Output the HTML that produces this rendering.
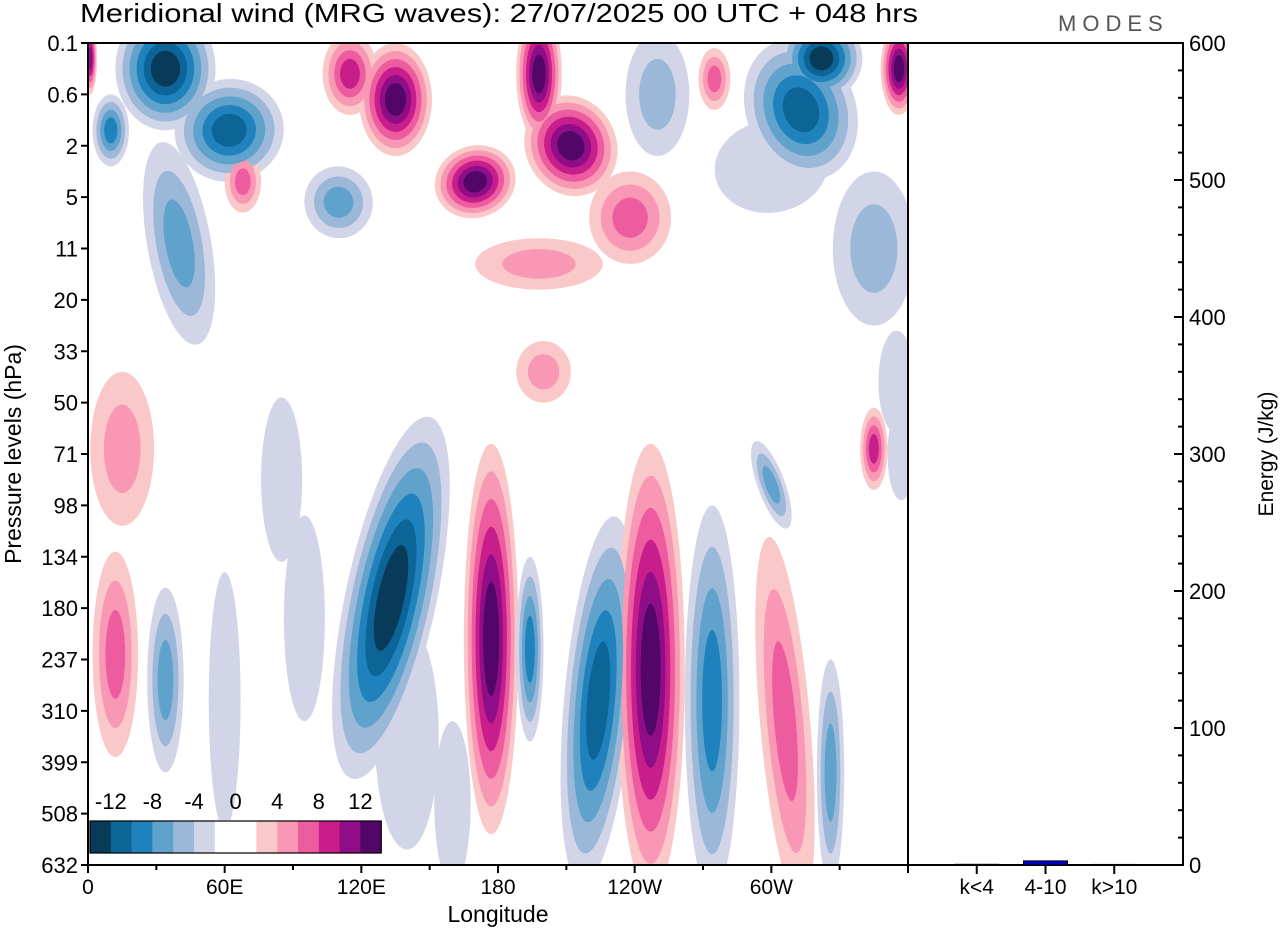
<!DOCTYPE html>
<html><head><meta charset="utf-8"><style>
body{margin:0;background:#fff;width:1280px;height:930px;overflow:hidden;font-family:"Liberation Sans",sans-serif}
svg text{font-family:"Liberation Sans",sans-serif;fill:#000}
</style></head><body>
<svg id="c" width="1280" height="930" viewBox="0 0 1280 930">
<defs><clipPath id="pc"><rect x="88" y="43" width="820" height="822"/></clipPath></defs>
<rect width="1280" height="930" fill="#fff"/>
<text x="80" y="22" font-size="26" textLength="838" lengthAdjust="spacingAndGlyphs">Meridional wind (MRG waves):  27/07/2025  00 UTC  + 048 hrs</text>
<text x="1058" y="31" font-size="22" style="letter-spacing:6px;fill:#555">MODES</text>
<g id="field" clip-path="url(#pc)"></g>
<g id="axes"></g>
</svg>
<script>
const levelsNeg=['#d2d5e8','#9cb8d8','#5fa2cc','#1f82bd','#0d6496','#083a5a'];
const levelsPos=['#fac8c8','#f898b4','#ee5ca0','#c81e8c','#900d88','#520668'];
const pressureLabels=['0.1','0.6','2','5','11','20','33','50','71','98','134','180','237','310','399','508','632'];
const lonLabels=['0','60E','120E','180','120W','60W'];
const cbarLabels=['-12','-8','-4','0','4','8','12'];
const bandCats=['k<4','4-10','k>10'];
const bandEnergy=[0.5,3,0.4];
const energyTicks=[0,100,200,300,400,500,600];
// blobs: lon (deg), pressure index, lon radius (deg), index radius, peak value, rotation
const blobLon=[133,177,194,224,247,274,306,326,12,34,95,60,345,300,15,85,
  34,62,10,40,110,135,115,68,212,198,170,238,313,322,356,198,345,250,275,200,355,357,160,140,300,1];
const blobP=[10.8,11.6,11.8,12.8,12.2,12.8,13.2,14.2,11.9,12.4,11.2,12.8,7.9,8.6,7.9,8.5,
  0.5,1.7,1.7,3.9,3.1,1.1,0.6,2.7,2.0,0.6,2.7,3.4,1.3,0.3,0.5,4.3,4.0,1.0,0.7,6.4,6.6,8.0,14.8,13.5,2.4,0.3];
const blobRL=[20,12,6,15,15,12,11,6,10,8,9,7,6,6,14,9,
  22,24,8,14,15,16,12,8,20,10,18,18,24,18,8,28,18,14,7,12,8,6,8,14,25,3];
const blobRP=[3.6,3.8,1.8,3.6,4.4,3.8,3.6,2.2,2.0,1.8,2.0,2.5,0.8,0.9,1.5,1.6,
  1.2,1.0,0.7,2.0,0.7,1.1,0.8,0.6,1.0,1.3,0.7,0.9,1.4,0.8,0.9,0.5,1.5,1.2,0.6,0.6,1.0,0.9,1.6,2.2,0.9,0.7];
const blobVal=[-14,14,-8,-10,14,-8,6,-6,6,-6,-3,-3,8,-6,4,-3,
  -14,-10,-8,-6,-6,12,8,6,14,12,12,6,-10,-14,12,4,-4,-4,6,4,-3,-3,-3,-3,-3,10];
const blobRot=[12,0,0,5,0,0,-5,0,0,0,0,0,0,-20,0,0,
  0,-10,0,-10,-10,0,0,0,-25,0,-20,0,-20,0,0,0,0,0,0,0,0,0,0,0,-10,0];

const X0=88,X1=908,Y0=43,Y1=865;
const xLon=l=>X0+(l/360)*(X1-X0);
const yP=i=>Y0+i*(Y1-Y0)/16;
const NS='http://www.w3.org/2000/svg';
function mk(tag,attrs,parent){const e=document.createElementNS(NS,tag);for(const k in attrs)e.setAttribute(k,attrs[k]);parent.appendChild(e);return e;}
const field=document.getElementById('field');
const axes=document.getElementById('axes');
for(let layer=1;layer<=6;layer++){
  for(let b=0;b<blobLon.length;b++){
    const v=blobVal[b];const n=Math.min(6,Math.max(1,Math.floor(Math.abs(v)/2)));
    if(layer>n)continue;
    const s=1-(layer-1)/n*0.85;
    const cx=xLon(blobLon[b]),cy=yP(blobP[b]);
    const rx=blobRL[b]/360*(X1-X0)*s, ry=blobRP[b]*(Y1-Y0)/16*s;
    const e=mk('ellipse',{cx:cx,cy:cy,rx:rx,ry:ry,fill:(v<0?levelsNeg:levelsPos)[layer-1],transform:`rotate(${blobRot[b]} ${cx} ${cy})`},field);
    
    
  }
}
const cb=mk('g',{},field);


const cbCols=[levelsNeg[5],levelsNeg[4],levelsNeg[3],levelsNeg[2],levelsNeg[1],levelsNeg[0],'#fff','#fff',...levelsPos];
const bw=20.8;
mk('rect',{x:89,y:820,width:bw*14+2,height:34,fill:'#fff'},cb);
cbCols.forEach((c,i)=>{const r=mk('rect',{x:90+i*bw,y:821,width:bw+0.5,height:32,fill:c},cb);});
mk('rect',{x:90,y:821,width:bw*14,height:32,fill:'none',stroke:'#000','stroke-width':1.2},cb);
cbarLabels.forEach((t,i)=>{const tx=mk('text',{x:90+bw*(1+2*i),y:809,'font-size':22,'text-anchor':'middle'},cb);tx.textContent=t;});
mk('rect',{x:X0,y:Y0,width:1183-X0,height:Y1-Y0,fill:'none',stroke:'#000','stroke-width':2},axes);
mk('line',{x1:X1,y1:Y0,x2:X1,y2:Y1,stroke:'#000','stroke-width':2},axes);
pressureLabels.forEach((t,i)=>{const y=yP(i);mk('line',{x1:X0-7,y1:y,x2:X0,y2:y,stroke:'#000','stroke-width':2},axes);
 const tx=mk('text',{x:X0-10,y:y+8,'font-size':22,'text-anchor':'end'},axes);tx.textContent=t;});
for(let l=0;l<=360;l+=30){const x=xLon(l);mk('line',{x1:x,y1:Y1,x2:x,y2:Y1+(l%60==0?8:5),stroke:'#000','stroke-width':2},axes);}
lonLabels.forEach((t,i)=>{const tx=mk('text',{x:xLon(i*60),y:Y1+29,'font-size':21,'text-anchor':'middle'},axes);tx.textContent=t;});
let tl=mk('text',{x:498,y:922,'font-size':23,'text-anchor':'middle'},axes);tl.textContent='Longitude';


tl=mk('text',{x:0,y:0,'font-size':23,'text-anchor':'middle',transform:'translate(21,454) rotate(-90)'},axes);tl.textContent='Pressure levels (hPa)';


const eY=v=>Y1-v/600*(Y1-Y0);
const bx0=908,bxW=275;
for(let v=0;v<=600;v+=20){const y=eY(v);mk('line',{x1:1183,y1:y,x2:1183-(v%100==0?9:5),y2:y,stroke:'#000','stroke-width':2},axes);}
energyTicks.forEach(v=>{const tx=mk('text',{x:1189,y:eY(v)+8,'font-size':22},axes);tx.textContent=v;});
tl=mk('text',{x:0,y:0,'font-size':21,'text-anchor':'middle',transform:'translate(1273,454) rotate(-90)'},axes);tl.textContent='Energy (J/kg)';


bandCats.forEach((c,i)=>{const cx=bx0+bxW*(i+1)/4;
 mk('line',{x1:cx,y1:Y1,x2:cx,y2:Y1+9,stroke:'#000','stroke-width':2},axes);
 const b=mk('rect',{x:cx-22,y:eY(bandEnergy[i]),width:44,height:Y1-eY(bandEnergy[i]),fill:i==1?'#0000cc':'#000',stroke:'#000','stroke-width':1},axes);
 
 
 const tx=mk('text',{x:cx,y:Y1+29,'font-size':21,'text-anchor':'middle'},axes);tx.textContent=c;
 
 });
</script>
</body></html>
